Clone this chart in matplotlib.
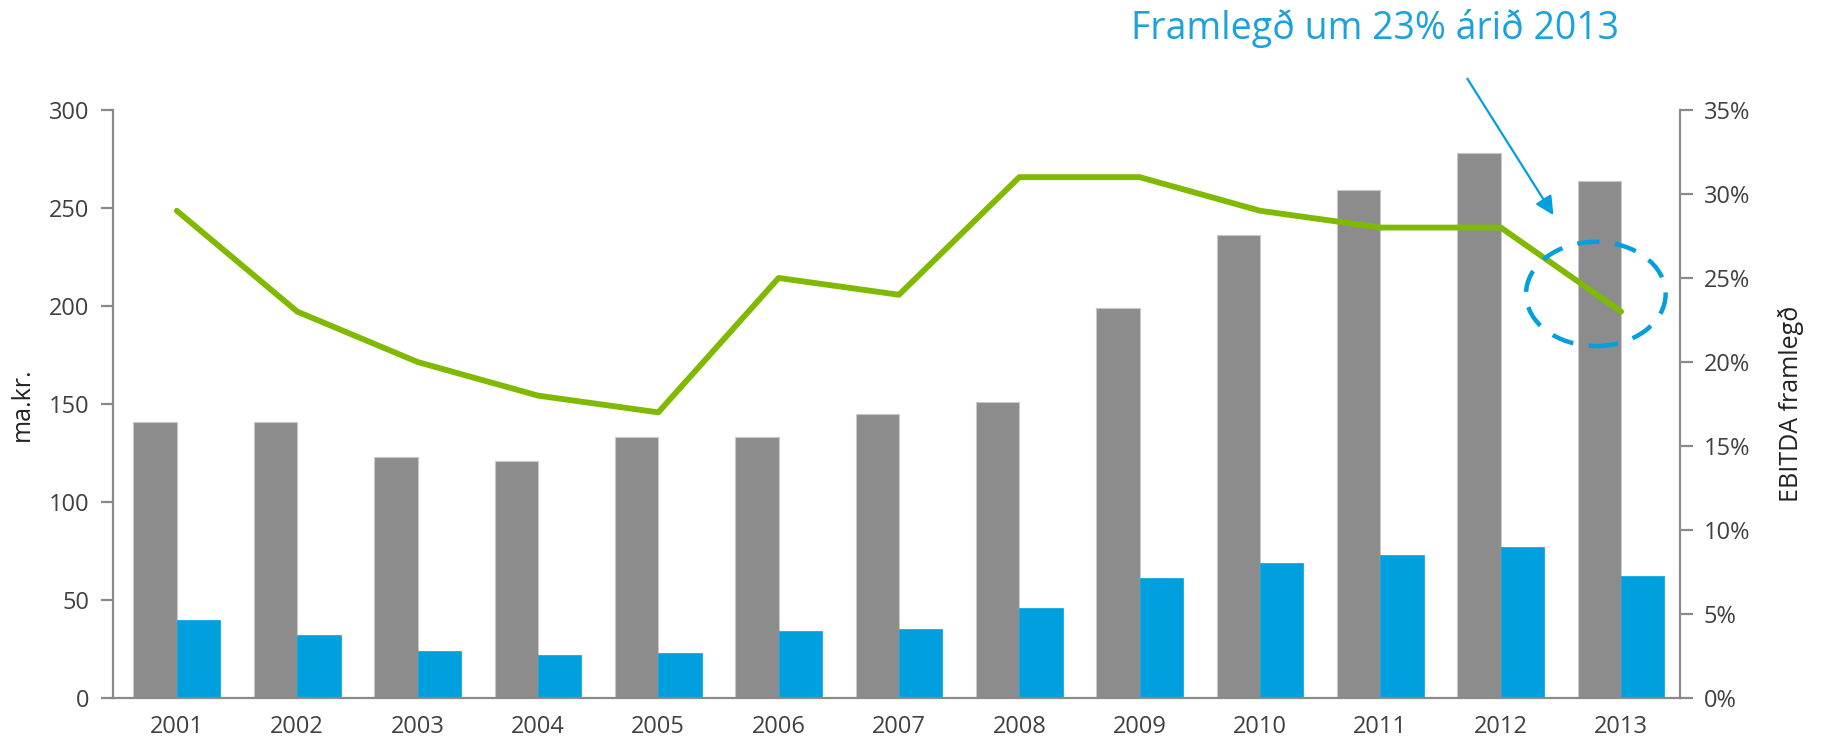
import numpy as np
import matplotlib
matplotlib.use("Agg")
import matplotlib.pyplot as plt
from matplotlib.patches import Ellipse

plt.rcParams['font.family'] = ['Open Sans', 'DejaVu Sans']

# --- data ---
years = ['2001', '2002', '2003', '2004', '2005', '2006', '2007',
         '2008', '2009', '2010', '2011', '2012', '2013']
revenue = [141, 141, 123, 121, 133, 133, 145, 151, 199, 236, 259, 278, 264]
ebitda = [40, 32, 24, 22, 23, 34, 35, 46, 61, 69, 73, 77, 62]
margin = [29, 23, 20, 18, 17, 25, 24, 31, 31, 29, 28, 28, 23]
left_ticks = [0, 50, 100, 150, 200, 250, 300]
right_ticks = [0, 5, 10, 15, 20, 25, 30, 35]

GREY = '#8c8c8c'
BLUE = '#00a0de'
GREEN = '#7fba00'
AXIS = '#8a8a8a'
TEXT = '#404040'

fig = plt.figure(figsize=(18.23, 7.53), dpi=100)
ax = fig.add_axes([0.062, 0.073, 0.8596, 0.781])
ax2 = ax.twinx()

x = np.arange(len(years))
w = 0.36
ax.bar(x - w / 2, revenue, width=w, color=GREY, edgecolor='#c8c8c8', linewidth=0.8, zorder=2)
ax.bar(x + w / 2, ebitda, width=w, color=BLUE, edgecolor=BLUE, linewidth=0.5, zorder=2)

ax2.plot(x, margin, color=GREEN, lw=4.2, solid_joinstyle='round', solid_capstyle='round', zorder=3)

ax.set_xlim(-0.53, 12.49)
ax.set_ylim(0, 300)
ax2.set_ylim(0, 35)

ax.set_yticks(left_ticks)
ax2.set_yticks(right_ticks)
ax2.set_yticklabels([f'{t}%' for t in right_ticks])
ax.set_xticks(x)
ax.set_xticklabels(years)

for a in (ax, ax2):
    for s in a.spines.values():
        s.set_color(AXIS)
        s.set_linewidth(1.6)
    a.spines['top'].set_visible(False)
ax.spines['right'].set_visible(False)
ax2.spines['left'].set_visible(False)
ax2.spines['bottom'].set_visible(False)

ax.tick_params(axis='y', colors=AXIS, labelcolor=TEXT, labelsize=17, length=9, width=1.6, pad=8)
ax2.tick_params(axis='y', colors=AXIS, labelcolor=TEXT, labelsize=17, length=9, width=1.6, pad=8)
ax.tick_params(axis='x', length=0, labelcolor=TEXT, labelsize=17, pad=12)

ax.set_ylabel('ma.kr.', fontsize=18, color='#222222', labelpad=10)
ax2.set_ylabel('EBITDA framlegð', fontsize=18, color='#222222', labelpad=20)

# highlight around the last margin point
ax2.add_patch(Ellipse((11.79, 24.05), 1.16, 6.2, fill=False, edgecolor=BLUE,
                      lw=3.2, linestyle=(0, (5, 3.5)), zorder=4))
ax2.annotate('', xy=(11.45, 28.6), xytext=(10.71, 37.0),
             arrowprops=dict(arrowstyle='-|>', color=BLUE, lw=1.6, mutation_scale=28),
             annotation_clip=False, zorder=5)

fig.text(0.754, 0.962, 'Framlegð um 23% árið 2013', color='#1ba1dc', fontsize=27,
         ha='center', va='center')

fig.savefig('out.png', dpi=100)
